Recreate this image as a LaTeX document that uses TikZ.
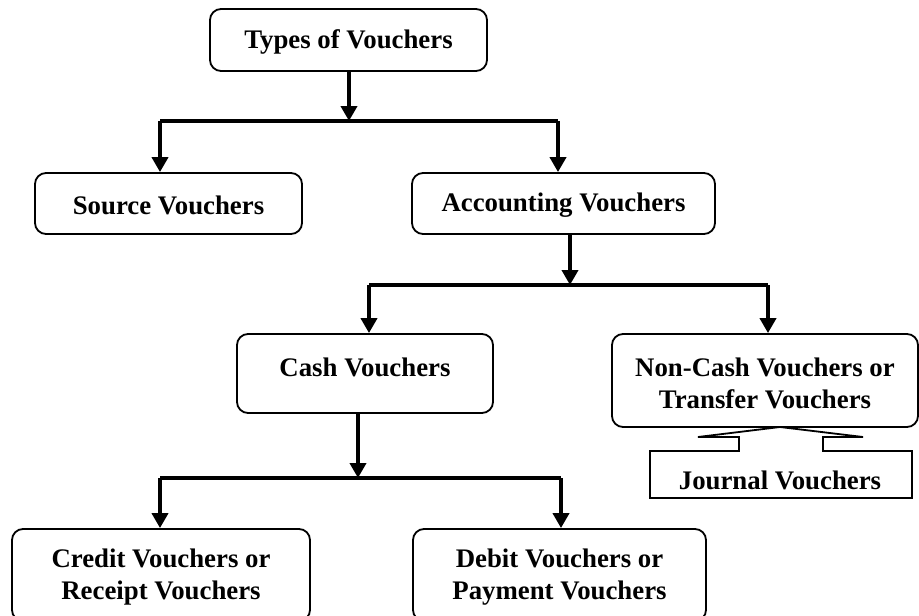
\documentclass[tikz,border=0pt]{standalone}
\usepackage{fontspec}
\setmainfont{Liberation Serif}
\usetikzlibrary{arrows.meta,calc}

\begin{document}
\begin{tikzpicture}[
  x=1pt, y=-1pt,
  vbox/.style={draw, line width=1.8pt, rounded corners=11pt, inner sep=0pt},
  vtext/.style={font=\fontsize{26.8}{32}\selectfont\bfseries, align=center, inner sep=0pt},
  conn/.style={line width=3.8pt, line join=miter, -{Triangle[width=16pt,length=15pt]}},
  bar/.style={line width=3.8pt, line join=miter}
]
\useasboundingbox (0,0) rectangle (919,616);
\clip (0,0) rectangle (919,616);

% boxes
\node[vbox, minimum width=277pt, minimum height=62pt] (types) at (348.5,40) {};
\node[vtext] (typesT) at (348.5,42) {Types of Vouchers};

\node[vbox, minimum width=267pt, minimum height=61pt] (source) at (168.5,203.5) {};
\node[vtext] (sourceT) at (168.5,205) {Source Vouchers};

\node[vbox, minimum width=303pt, minimum height=61pt] (acc) at (563.5,203.5) {};
\node[vtext] (accT) at (563.5,205) {Accounting Vouchers};

\node[vbox, minimum width=256pt, minimum height=79pt] (cash) at (365,373.5) {};
\node[vtext] (cashT) at (365,367) {Cash Vouchers};

\node[vbox, minimum width=306pt, minimum height=93pt] (noncash) at (765,380.5) {};
\node[vtext] (noncashT) at (765,383) {Non-Cash Vouchers or\\Transfer Vouchers};

\node[vbox, minimum width=298pt, minimum height=92pt] (credit) at (161,575) {};
\node[vtext] (creditT) at (161,577) {Credit Vouchers or\\Receipt Vouchers};

\node[vbox, minimum width=293pt, minimum height=92pt] (debit) at (559.5,575) {};
\node[vtext] (debitT) at (559.5,577) {Debit Vouchers or\\Payment Vouchers};

% journal vouchers callout hanging under the non-cash box
\node[vtext] (journal) at (780,480) {Journal Vouchers};
\draw[line width=1.8pt, line join=miter]
  (650,451) -- (739,451) -- (739,437) -- (698,437) -- (780,427)
  -- (863,437) -- (823,437) -- (823,451) -- (912,451)
  -- (912,498) -- (650,498) -- cycle;

% junctions of the branch bars
\coordinate (j1) at (349,121);
\coordinate (j2) at (570,285);
\coordinate (j3) at (358,478);

% connectors
\draw[conn] (types.south -| j1) -- (j1);
\draw[bar] (j1) -- (160,121) coordinate (l1);
\draw[bar] (j1) -- (558,121) coordinate (r1);
\draw[conn] (l1) -- (source.north -| l1);
\draw[conn] (r1) -- (acc.north -| r1);

\draw[conn] (acc.south -| j2) -- (j2);
\draw[bar] (j2) -- (369,285) coordinate (l2);
\draw[bar] (j2) -- (768,285) coordinate (r2);
\draw[conn] (l2) -- (cash.north -| l2);
\draw[conn] (r2) -- (noncash.north -| r2);

\draw[conn] (cash.south -| j3) -- (j3);
\draw[bar] (j3) -- (160,478) coordinate (l3);
\draw[bar] (j3) -- (561,478) coordinate (r3);
\draw[conn] (l3) -- (credit.north -| l3);
\draw[conn] (r3) -- (debit.north -| r3);
\end{tikzpicture}
\end{document}
